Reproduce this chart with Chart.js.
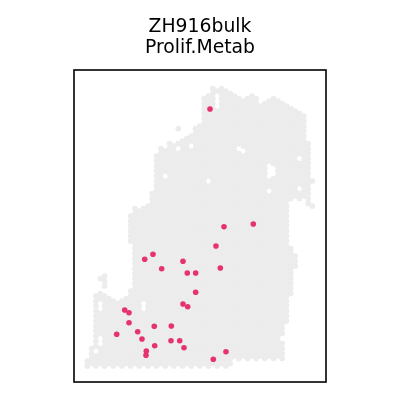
<!DOCTYPE html>
<html>
<head>
<meta charset="utf-8">
<script src="https://cdn.jsdelivr.net/npm/chart.js@4.4.1/dist/chart.umd.min.js"></script>
<style>
  html, body { margin: 0; padding: 0; background: #ffffff; }
  #wrap { width: 400px; height: 400px; }
</style>
</head>
<body>
<div id="wrap"><canvas id="c" width="400" height="400"></canvas></div>
<script>
// ---- Data (spatial grid: x = array column, y = array row; odd columns sit half a row higher) ----
const titleLines = ['ZH916bulk', 'Prolif.Metab'];

// Tissue spots (grey): for each array column, the row ranges [low, high] covered by tissue
const columnRanges = [
  [[0, 1.2]],                 // 0
  [[0, 3.7]],                 // 1
  [[0, 14.5]],                // 2
  [[0, 14.5], [16.9, 18.1]],  // 3
  [[0, 14.3], [15.9, 18.1]],  // 4
  [[0, 14.1]],                // 5
  [[0, 13.5]],                // 6
  [[0, 13.1]],                // 7
  [[0, 13.7]],                // 8
  [[0, 14.3]],                // 9
  [[0, 15.3], [24.1, 30.7]],  // 10
  [[0, 31.5]],                // 11
  [[0, 31.9]],                // 12
  [[0, 32.3]],                // 13
  [[0, 32.7]],                // 14
  [[0, 34.7]],                // 15
  [[0, 42.9]],                // 16
  [[0, 43.5]],                // 17
  [[0, 43.7]],                // 18
  [[0, 44.5]],                // 19
  [[0, 44.7]],                // 20
  [[0, 45.3], [47.4, 47.6]],  // 21
  [[0, 45.3]],                // 22
  [[0, 46.1]],                // 23
  [[0, 46.7]],                // 24
  [[0, 47.7]],                // 25
  [[0, 48.3]],                // 26
  [[0, 54.1]],                // 27
  [[0, 54.7]],                // 28
  [[0, 55.6]],                // 29
  [[0, 55.1]],                // 30
  [[0, 55.6]],                // 31
  [[0, 55.1]],                // 32
  [[0, 54.7]],                // 33
  [[1.5, 54.5]],              // 34
  [[1.5, 54.1]],              // 35
  [[1.5, 53.9]],              // 36
  [[1.5, 54.1]],              // 37
  [[1.5, 54.1]],              // 38
  [[1.5, 53.5]],              // 39
  [[1.5, 52.7]],              // 40
  [[1.5, 52.7]],              // 41
  [[1.5, 53.1]],              // 42
  [[1.5, 53.5]],              // 43
  [[1.5, 53.1]],              // 44
  [[1.5, 52.7]],              // 45
  [[8.5, 52.3]],              // 46
  [[13.7, 23.7], [33.5, 51.9]], // 47
  [[19.1, 22.7], [33.5, 51.5]], // 48
  [[33.5, 51.1]],             // 49
  [[33.5, 50.5]],             // 50
  [[32.5, 44.7]],             // 51
  [[31.9, 32.1], [36.9, 37.1]]  // 52
];

// Gaps (no tissue) inside the ranges: [column, row]
const holeCols = [2, 3, 3, 3, 3, 13, 13, 18, 21, 24, 28, 30, 30, 30, 35, 36, 42, 42, 42, 43, 43, 42, 45, 49, 49];
const holeRows = [3, 4.5, 5.5, 11.5, 12.5, 11.5, 12.5, 38, 43.5, 44, 37, 52, 53, 54, 43.5, 43, 38, 39, 40, 38.5, 39.5, 35, 5.5, 41.5, 35.5];

// Highlighted spots (pink): Prolif.Metab
const pinkX = [28.34, 31.57, 38.34, 29.72, 15.17, 13.26, 22.1, 17.18, 30.72, 23.09,
               25.03, 25.03, 22.1, 23.19, 8.64, 9.63, 9.63, 6.79, 11.64, 15.47,
               19.4, 12.63, 19.33, 21.34, 15.57, 22.33, 13.63, 13.56, 32.03, 29.1];
const pinkY = [51.4, 27.86, 28.4, 24.0, 22.34, 21.34, 20.94, 19.46, 19.6, 18.6,
               18.6, 14.74, 12.4, 11.86, 11.2, 10.66, 8.66, 6.34, 6.86, 7.94,
               8.0, 5.4, 5.06, 5.06, 4.06, 3.66, 3.0, 2.14, 2.86, 1.34];

// ---- Build chart data from the arrays ----
const holeSet = new Set(holeCols.map((c, k) => c + ':' + holeRows[k]));
const greyPts = [];
columnRanges.forEach((ranges, col) => {
  const off = col % 2 ? 0.5 : 0;
  ranges.forEach(([lo, hi]) => {
    for (let r = 0; r <= 60; r++) {
      const y = r + off;
      if (y >= lo - 1e-9 && y <= hi + 1e-9 && !holeSet.has(col + ':' + y)) {
        greyPts.push({ x: col, y: y });
      }
    }
  });
});
const pinkPts = pinkX.map((x, k) => ({ x: x, y: pinkY[k] }));

const framePlugin = {
  id: 'frame',
  afterDraw(chart) {
    const a = chart.chartArea, ctx = chart.ctx;
    ctx.save();
    ctx.strokeStyle = '#000000';
    ctx.lineWidth = 1.6;
    ctx.strokeRect(a.left, a.top, a.right - a.left, a.bottom - a.top);
    ctx.restore();
  }
};

new Chart(document.getElementById('c'), {
  type: 'scatter',
  data: {
    datasets: [
      {
        label: 'Prolif.Metab',
        data: pinkPts,
        order: 1,
        pointRadius: 2.8,
        pointBackgroundColor: '#e6336f',
        pointBorderWidth: 0,
        pointHoverRadius: 2.8
      },
      {
        label: 'tissue',
        data: greyPts,
        order: 2,
        pointRadius: 2.85,
        pointBackgroundColor: '#ececec',
        pointBorderWidth: 0,
        pointHoverRadius: 2.85
      }
    ]
  },
  options: {
    responsive: false,
    animation: false,
    devicePixelRatio: 1,
    events: [],
    layout: { padding: { left: 74, right: 74, top: 0, bottom: 18 } },
    scales: {
      x: { type: 'linear', min: -3.072, max: 55.13, display: false },
      y: { type: 'linear', min: -3.2, max: 59.2, display: false }
    },
    plugins: {
      legend: { display: false },
      tooltip: { enabled: false },
      title: {
        display: true,
        text: titleLines,
        color: '#000000',
        font: { family: 'DejaVu Sans', size: 18.8, weight: 'normal', lineHeight: 1.117 },
        padding: { top: 16.8, bottom: 11.2 }
      }
    }
  },
  plugins: [framePlugin]
});
</script>
</body>
</html>
